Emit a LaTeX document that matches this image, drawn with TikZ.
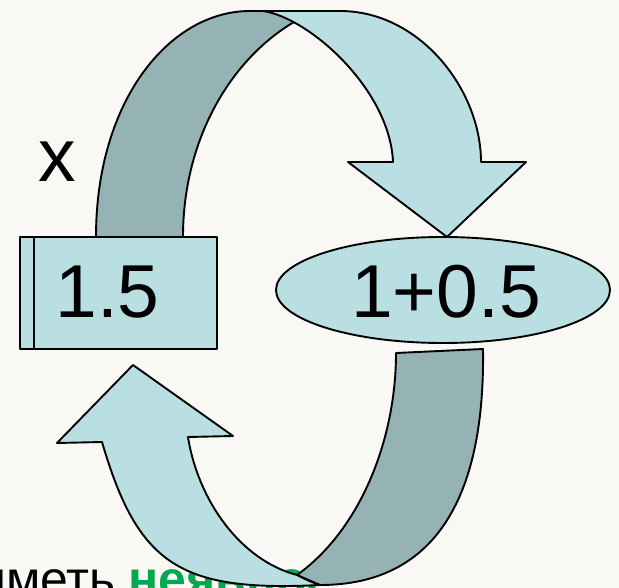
\documentclass[tikz,border=0pt]{standalone}
\usepackage{fontspec}
\setmainfont{Liberation Sans}
\usetikzlibrary{shapes.geometric}
\definecolor{bgc}{RGB}{250,248,245}
\definecolor{lightc}{RGB}{185,223,227}
\definecolor{darkc}{RGB}{149,179,181}
\definecolor{greenc}{RGB}{0,168,80}
\begin{document}
\begin{tikzpicture}[x=1pt,y=-1pt, line join=round,
  outl/.style={draw=black, line width=1.9pt},
  lightfill/.style={outl, fill=lightc},
  darkfill/.style={outl, fill=darkc},
  big/.style={font=\fontsize{75}{80}\selectfont, inner sep=0pt, anchor=base},
  smalltext/.style={font=\fontsize{50}{55}\selectfont, inner sep=0pt}]
\useasboundingbox (0,0) rectangle (619,588);
\clip (0,0) rectangle (619,588);
\fill[bgc] (0,0) rectangle (619,588);
% partly hidden text at the bottom
\node[smalltext, anchor=base east] (t1) at (116,596) {иметь};
\node[smalltext, anchor=base west, text=greenc, font=\fontsize{50}{55}\selectfont\bfseries] (t2) at (128,596) {неявное};
% top ribbon arrow
\draw[darkfill] (96,237) .. controls (96,100) and (170,11) .. (250,11) -- (280,11) -- (310,16) -- (294,22) .. controls (230,60) and (183,140) .. (183,237) -- cycle;
\draw[lightfill] (263,11) -- (340,11) .. controls (420,11) and (481,90) .. (481,162) -- (526,162) -- (447,237) -- (348,162) -- (393,162) .. controls (390,90) and (310,18) .. (263,11) -- cycle;
% bottom ribbon arrow
\draw[darkfill] (396,353) -- (483,349) .. controls (485,490) and (440,585) .. (320,585) -- (297,575) .. controls (360,530) and (396,440) .. (396,353) -- cycle;
\draw[lightfill] (320,585) .. controls (180,592) and (138,565) .. (102,442) -- (57,443) -- (133,365) -- (233,436) -- (188,437) .. controls (198,500) and (240,560) .. (297,575) .. controls (305,579) and (313,583) .. (320,585) -- cycle;
% box and ellipse
\node[lightfill, rectangle, minimum width=197pt, minimum height=112pt, inner sep=0pt] (box) at (118.5,293) {};
\draw[outl] ([xshift=15pt]box.north west) -- ([xshift=15pt]box.south west);
\node[big] (v) at (107.5,318) {1.5};
\node[ellipse, lightfill, minimum width=334pt, minimum height=106pt, inner sep=0pt] (ell) at (443,290) {};
\node[big] (e) at (446,318) {1+0.5};
\node[big] (xl) at (57,182) {x};
\end{tikzpicture}
\end{document}
